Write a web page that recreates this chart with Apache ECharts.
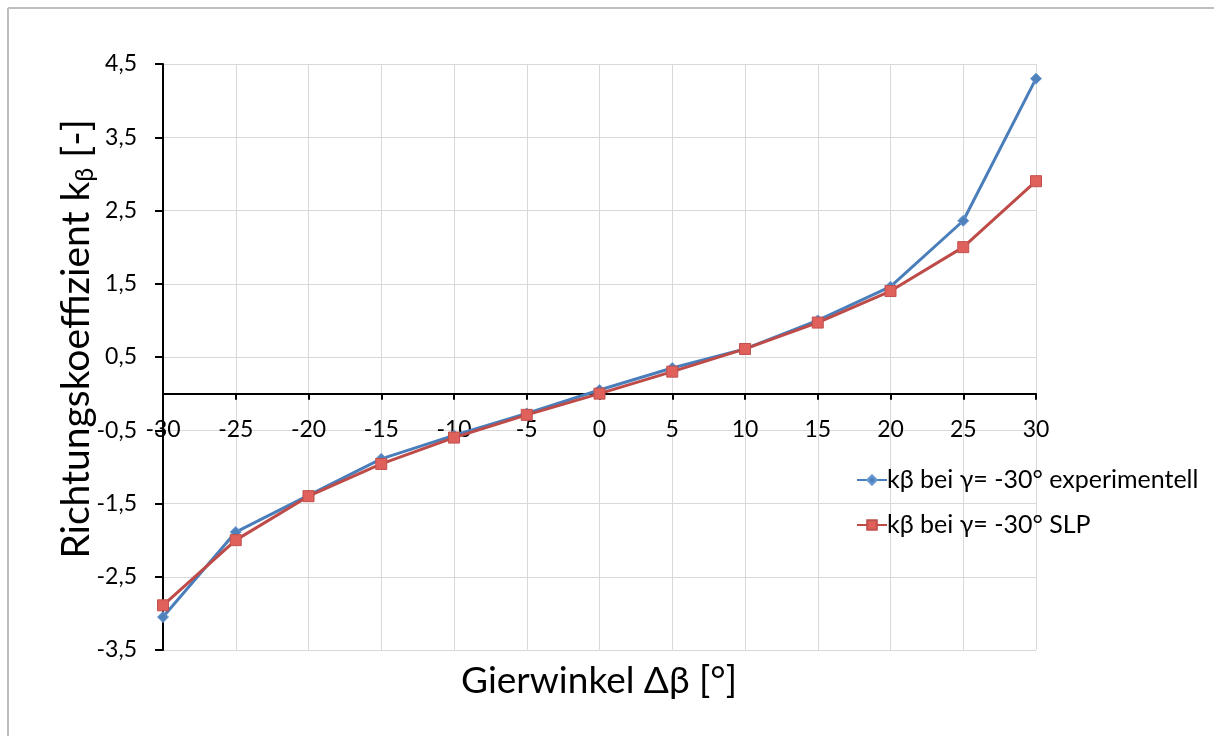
<!DOCTYPE html>
<html>
<head>
<meta charset="utf-8">
<script src="https://cdn.jsdelivr.net/npm/echarts@6/dist/echarts.min.js"></script>
<style>
html,body{margin:0;padding:0;background:#fff;}
#chart{width:1214px;height:736px;}
</style>
</head>
<body>
<div id="chart"></div>
<script>
const xValues = [-30, -25, -20, -15, -10, -5, 0, 5, 10, 15, 20, 25, 30];
const experimentell = [-3.05, -1.89, -1.39, -0.89, -0.57, -0.27, 0.05, 0.35, 0.61, 1.0, 1.46, 2.36, 4.3];
const slp = [-2.89, -2.0, -1.40, -0.96, -0.60, -0.29, 0.0, 0.30, 0.61, 0.97, 1.40, 2.0, 2.90];
const seriesNames = ['kβ bei γ= -30° experimentell', 'kβ bei γ= -30° SLP'];
const xTitle = 'Gierwinkel Δβ [°]';
const yTitleMain = 'Richtungskoeffizient k';
const yTitleSub = 'β';
const yTitleEnd = ' [-]';

const FONT = 'Lato';
const chart = echarts.init(document.getElementById('chart'), null, {renderer: 'canvas'});
const pairs = arr => xValues.map((x, i) => [x, arr[i]]);

chart.setOption({
  backgroundColor: '#ffffff',
  animation: false,
  textStyle: {fontFamily: FONT},
  grid: {left: 163, right: 178, top: 64, bottom: 86, containLabel: false, outerBoundsMode: 'none'},
  graphic: [
    {type: 'line', shape: {x1: 8, y1: 8, x2: 1214, y2: 8}, style: {stroke: '#bdbdbd', lineWidth: 2}},
    {type: 'line', shape: {x1: 8, y1: 8, x2: 8, y2: 736}, style: {stroke: '#bdbdbd', lineWidth: 2}},
    {type: 'text', x: 599, y: 681, style: {text: xTitle, font: '37px ' + FONT, fill: '#000', align: 'center', verticalAlign: 'middle'}},
    {type: 'text', x: 76, y: 339, rotation: Math.PI / 2,
      style: {
        text: '{a|' + yTitleMain + '}{b|' + yTitleSub + '}{a|' + yTitleEnd + '}',
        align: 'center', verticalAlign: 'middle',
        rich: {
          a: {fontFamily: FONT, fontSize: 39, fill: '#000', lineHeight: 44},
          b: {fontFamily: FONT, fontSize: 25, fill: '#000', padding: [18, 0, 0, 0], lineHeight: 44}
        }
      }
    }
  ],
  legend: {
    orient: 'vertical',
    left: 851,
    top: 461,
    itemWidth: 30,
    itemHeight: 12,
    itemGap: 17,
    textStyle: {fontFamily: FONT, fontSize: 25, color: '#000', lineHeight: 28, padding: [0, 0, 0, -5]},
    data: seriesNames
  },
  xAxis: {
    type: 'value',
    min: -30, max: 30, interval: 5,
    axisLine: {onZero: true, lineStyle: {color: '#000', width: 2}},
    axisTick: {show: true, length: 6, lineStyle: {color: '#000', width: 2}},
    axisLabel: {fontFamily: FONT, fontSize: 23, color: '#000', margin: -232, showMinLabel: true, showMaxLabel: true, hideOverlap: false},
    splitLine: {show: true, lineStyle: {color: '#d9d9d9', width: 1}}
  },
  yAxis: {
    type: 'value',
    min: -3.5, max: 4.5, interval: 1,
    axisLine: {show: true, onZero: false, lineStyle: {color: '#000', width: 2}},
    axisTick: {show: true, length: 8, lineStyle: {color: '#000', width: 2}},
    axisLabel: {
      fontFamily: FONT, fontSize: 23, color: '#000', margin: 26,
      showMinLabel: true, showMaxLabel: true, hideOverlap: false,
      formatter: v => v.toFixed(1).replace('.', ',')
    },
    splitLine: {show: true, lineStyle: {color: '#d9d9d9', width: 1}}
  },
  series: [
    {
      name: seriesNames[0],
      type: 'line',
      data: pairs(experimentell),
      symbol: 'diamond',
      symbolSize: 11,
      lineStyle: {color: '#4a7ebb', width: 3},
      itemStyle: {color: '#4f81bd', borderColor: '#6d9ad3', borderWidth: 1},
      z: 3
    },
    {
      name: seriesNames[1],
      type: 'line',
      data: pairs(slp),
      symbol: 'rect',
      symbolSize: 11,
      lineStyle: {color: '#be4b48', width: 3},
      itemStyle: {color: '#e0605c', borderColor: '#c0504d', borderWidth: 1},
      z: 4
    }
  ]
});
</script>
</body>
</html>
